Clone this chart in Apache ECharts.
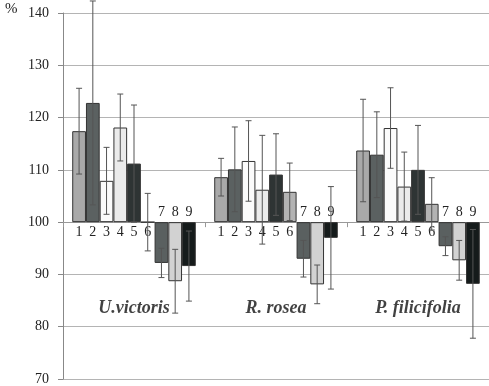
<!DOCTYPE html>
<html>
<head>
<meta charset="utf-8">
<script src="https://cdn.jsdelivr.net/npm/echarts@6/dist/echarts.min.js"></script>
<style>html,body{margin:0;padding:0;background:#fff}#c{width:489px;height:386px}</style>
</head>
<body>
<div id="c"></div>
<script>
const groups = ['U.victoris', 'R. rosea', 'P. filicifolia'];
const barNames = ['1','2','3','4','5','6','7','8','9'];
const uvMeans = [117.4, 122.8, 107.9, 118.1, 111.2, 100.0, 92.2, 88.7, 91.6];
const uvErr   = [8.2, 19.5, 6.4, 6.4, 11.2, 5.5, 2.8, 6.1, 6.7];
const rrMeans = [108.6, 110.1, 111.7, 106.2, 109.1, 105.8, 93.0, 88.1, 97.0];
const rrErr   = [3.6, 8.1, 7.7, 10.4, 7.8, 5.5, 3.5, 3.7, 9.8];
const pfMeans = [113.7, 112.9, 118.0, 106.8, 110.0, 103.5, 95.4, 92.7, 88.2];
const pfErr   = [9.8, 8.2, 7.7, 6.6, 8.5, 5.0, 1.8, 3.8, 10.4];
const yTicks = [70, 80, 90, 100, 110, 120, 130, 140];
const groupLabelLevel = 83.5;
const baseline = 100;
const colors = ['#a9a9a9','#5b6161','#fbfbfb','#ebebeb','#2e3434','#b3b3b3','#5a6060','#d2d2d2','#151b1b'];

const means = [uvMeans, rrMeans, pfMeans];
const errs = [uvErr, rrErr, pfErr];
const catGap = 0.13;
const serif = '"Liberation Serif", "DejaVu Serif", serif';

const series = [];
barNames.forEach((name, i) => {
  series.push({
    type: 'bar',
    name: name,
    barGap: 0,
    barCategoryGap: (catGap * 100) + '%',
    data: groups.map((g, gi) => {
      const v = means[gi][i];
      return {
        value: +(v - baseline).toFixed(2),
        label: { position: v >= baseline ? 'bottom' : 'top' }
      };
    }),
    itemStyle: { color: colors[i], borderColor: '#333', borderWidth: 1 },
    label: {
      show: true, formatter: name, distance: 3,
      fontFamily: serif, fontSize: 14, color: '#222'
    },
    z: 2
  });
});

const errData = [];
groups.forEach((g, gi) => {
  barNames.forEach((n, i) => {
    errData.push([gi, means[gi][i] - baseline, errs[gi][i], i]);
  });
});

series.push({
  type: 'custom',
  clip: false,
  z: 5,
  data: errData,
  renderItem: function (params, api) {
    const gi = api.value(0), m = api.value(1), e = api.value(2), i = api.value(3);
    const catW = api.size([1, 0])[0];
    const bw = catW * (1 - catGap) / 9;
    const c = api.coord([gi, m]);
    const x = c[0] + (i - 4) * bw;
    const top = api.coord([gi, m + e])[1];
    const bot = api.coord([gi, m - e])[1];
    const cap = 3;
    const st = { stroke: '#555', lineWidth: 1 };
    return {
      type: 'group',
      children: [
        { type: 'line', shape: { x1: x, y1: top, x2: x, y2: bot }, style: st },
        { type: 'line', shape: { x1: x - cap, y1: top, x2: x + cap, y2: top }, style: st },
        { type: 'line', shape: { x1: x - cap, y1: bot, x2: x + cap, y2: bot }, style: st }
      ]
    };
  }
});

series.push({
  type: 'scatter',
  symbolSize: 0,
  z: 6,
  data: groups.map((g, gi) => ({ value: [gi, groupLabelLevel - baseline], name: g })),
  label: {
    show: true, position: 'inside', formatter: p => p.name,
    fontFamily: serif, fontSize: 18, fontWeight: 'bold', fontStyle: 'italic', color: '#111'
  },
  silent: true
});

const chart = echarts.init(document.getElementById('c'));
chart.setOption({
  animation: false,
  grid: { left: 63, right: 0, top: 13, bottom: 7, containLabel: false, outerBoundsMode: 'none' },
  xAxis: {
    type: 'category',
    data: groups,
    axisLine: { onZero: true, lineStyle: { color: '#999' } },
    axisTick: { show: true, length: 5, lineStyle: { color: '#999' } },
    axisLabel: { show: false },
    splitLine: { show: false }
  },
  yAxis: {
    type: 'value',
    min: yTicks[0] - baseline,
    max: yTicks[yTicks.length - 1] - baseline,
    interval: 10,
    axisLine: { show: true, lineStyle: { color: '#888' } },
    axisTick: { show: true, length: 5, lineStyle: { color: '#888' } },
    axisLabel: {
      margin: 14, fontFamily: serif, fontSize: 14, color: '#222',
      formatter: v => String(v + baseline)
    },
    splitLine: { show: true, lineStyle: { color: '#b4b4b4', width: 1 } }
  },
  graphic: [{
    type: 'text', left: 5, top: 2,
    style: { text: '%', fontFamily: serif, fontSize: 15, fill: '#222' }
  }],
  series: series
});
</script>
</body>
</html>
